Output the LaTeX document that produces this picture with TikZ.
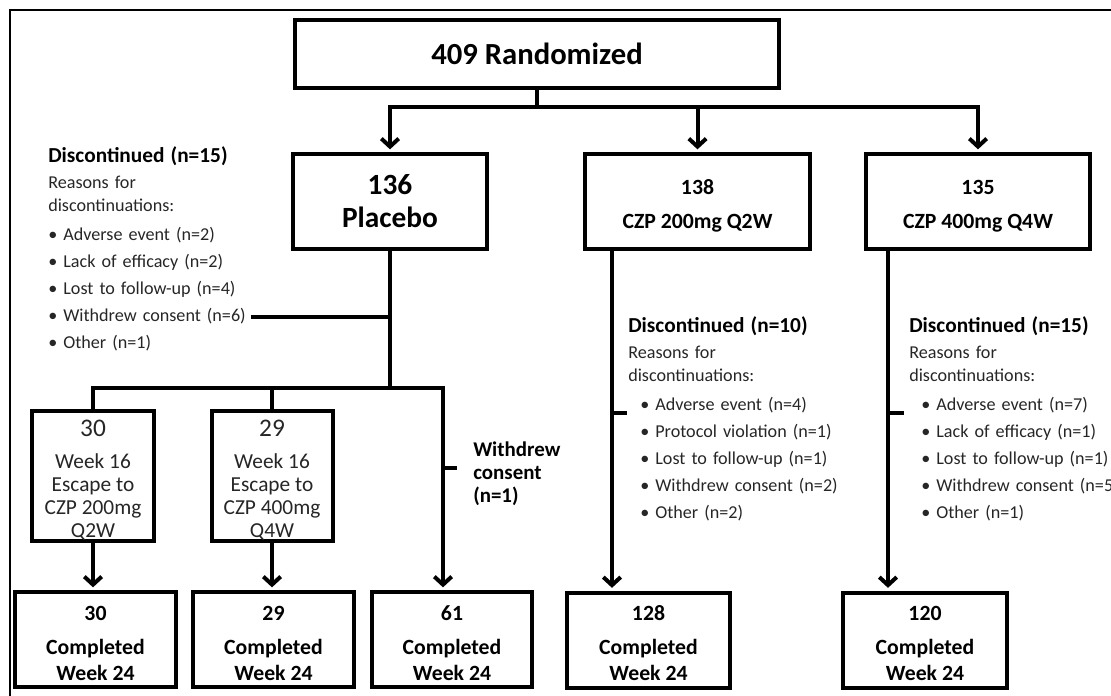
\documentclass[tikz,border=0pt]{standalone}
\usepackage{fontspec}
\setmainfont{Carlito}
\usetikzlibrary{arrows.meta}
\begin{document}
\begin{tikzpicture}[x=0.75pt,y=-0.75pt,
  box/.style={draw, line width=3pt, inner sep=0pt, align=center},
  sz/.style 2 args={minimum width=#1*0.75pt, minimum height=#2*0.75pt},
  conn/.style={line width=3pt},
  tip/.tip={Straight Barb[length=6pt,width=13pt]},
  arr/.style={conn, -tip, shorten >=2pt},
  note/.style={anchor=base west, inner sep=0pt, text width=190pt, align=left,
    font=\fontsize{13.6}{20.25}\selectfont, text=black!85},
]
\useasboundingbox (0,0) rectangle (1111,696);
% outer frame
\draw[line width=1.5pt] (10,696) -- (10,10) -- (1111,10);

% top level boxes
\node[box, sz={484}{68}, font=\fontsize{23}{28}\selectfont\bfseries] (rand) at (537,54) {409 Randomized};
\node[box, sz={194}{95}, font=\fontsize{22}{24.75}\selectfont\bfseries] (plac) at (390,201.5) {136\\Placebo};
\node[box, sz={225}{95}, font=\fontsize{16.3}{25.5}\selectfont\bfseries] (czpa) at (697.5,201.5) {\rule{0pt}{18pt}138\\CZP 200mg Q2W};
\node[box, sz={224}{95}, font=\fontsize{16.3}{25.5}\selectfont\bfseries] (czpb) at (978,201.5) {\rule{0pt}{18pt}135\\CZP 400mg Q4W};

% escape boxes
\node[box, sz={122}{126}, font=\fontsize{16}{17.25}\selectfont, text=black!85] (esca) at (93,476)
  {\rule{0pt}{19pt}{\fontsize{19}{17.25}\selectfont 30}\\[6.75pt]Week 16\\Escape to\\CZP 200mg\\Q2W};
\node[box, sz={121}{126}, font=\fontsize{16}{17.25}\selectfont, text=black!85] (escb) at (272,476)
  {\rule{0pt}{19pt}{\fontsize{19}{17.25}\selectfont 29}\\[6.75pt]Week 16\\Escape to\\CZP 400mg\\Q4W};

% bottom boxes
\tikzset{endbox/.style={box, font=\fontsize{16.3}{19.5}\selectfont\bfseries}}
\node[endbox, sz={161}{95}] (ba) at (95.5,639.5) {\rule{0pt}{16pt}30\\[6pt]Completed\\Week 24};
\node[endbox, sz={161}{95}] (bb2) at (273.5,639.5) {\rule{0pt}{16pt}29\\[6pt]Completed\\Week 24};
\node[endbox, sz={160}{95}] (bc) at (452,639.5) {\rule{0pt}{16pt}61\\[6pt]Completed\\Week 24};
\node[endbox, sz={163}{95}] (bd) at (648.5,640) {\rule{0pt}{16pt}128\\[6pt]Completed\\Week 24};
\node[endbox, sz={164}{95}] (be) at (925,640) {\rule{0pt}{16pt}120\\[6pt]Completed\\Week 24};

% discontinuation notes
\node[note] (dl) at (48,162) {{\fontsize{16}{20.25}\selectfont\bfseries\color{black}Discontinued (n=15)}\\[-0.75pt]
Reasons for\\[-3pt]
discontinuations:\\[1.5pt]
• Adverse event (n=2)\\
• Lack of efficacy (n=2)\\
• Lost to follow-up (n=4)\\
• Withdrew consent (n=6)\\
• Other (n=1)};
\node[note] (dm) at (628,332) {{\fontsize{16}{20.25}\selectfont\bfseries\color{black}Discontinued (n=10)}\\[-0.75pt]
Reasons for\\[-3pt]
discontinuations:\\[1.5pt]
\hspace*{9pt}• Adverse event (n=4)\\
\hspace*{9pt}• Protocol violation (n=1)\\
\hspace*{9pt}• Lost to follow-up (n=1)\\
\hspace*{9pt}• Withdrew consent (n=2)\\
\hspace*{9pt}• Other (n=2)};
\node[note] (dr) at (909,332) {{\fontsize{16}{20.25}\selectfont\bfseries\color{black}Discontinued (n=15)}\\[-0.75pt]
Reasons for\\[-3pt]
discontinuations:\\[1.5pt]
\hspace*{9pt}• Adverse event (n=7)\\
\hspace*{9pt}• Lack of efficacy (n=1)\\
\hspace*{9pt}• Lost to follow-up (n=1)\\
\hspace*{9pt}• Withdrew consent (n=5)\\
\hspace*{9pt}• Other (n=1)};
\node[note, text width=80pt, font=\fontsize{15.7}{17.25}\selectfont\bfseries, text=black] (wd) at (473,456) {Withdrew\\consent\\(n=1)};

% connectors: top
\coordinate (tb) at (537,107);
\draw[conn] (rand.south) -- (tb);
\draw[conn, tip-tip, shorten <=2pt, shorten >=2pt] (plac.north) |- (czpb.north |- tb) -- (czpb.north);
\draw[arr] (czpa.north |- tb) -- (czpa.north);

% placebo branch
\coordinate (bb) at (443,388);
\draw[conn] (plac.south) -- (plac.south |- bb);
\draw[arr] (esca.north) |- (bb) -- (bb |- bc.north);
\draw[conn] (escb.north) -- (escb.north |- bb);
\coordinate (w6) at (251,317);
\draw[conn] (w6) -- (w6 -| plac.south);
\coordinate (t3) at (457,468);
\draw[conn] (t3 -| bb) -- (t3);
\draw[arr] (esca.south) -- (esca.south |- ba.north);
\draw[arr] (escb.south) -- (escb.south |- bb2.north);

% CZP 200 branch
\coordinate (sa) at (612,413);
\coordinate (ta) at (627,413);
\draw[arr] (czpa.south -| sa) -- (sa |- bd.north);
\draw[conn] (sa) -- (ta);

% CZP 400 branch
\coordinate (sb) at (888,413);
\coordinate (tbk) at (904,413);
\draw[arr] (czpb.south -| sb) -- (sb |- be.north);
\draw[conn] (sb) -- (tbk);
\end{tikzpicture}
\end{document}
